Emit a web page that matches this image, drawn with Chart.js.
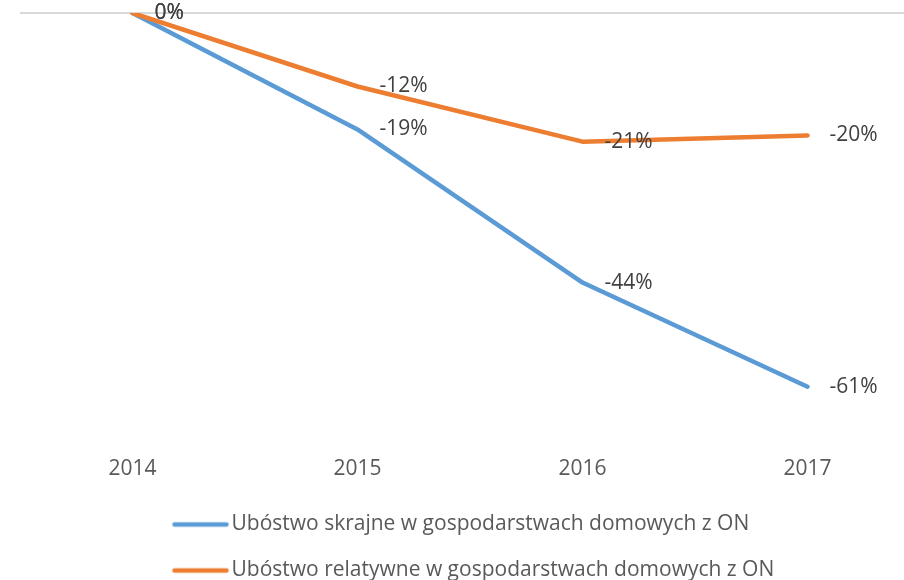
<!DOCTYPE html>
<html>
<head>
<meta charset="utf-8">
<script src="https://cdn.jsdelivr.net/npm/chart.js@4"></script>
<style>
  html, body { margin: 0; padding: 0; background: #fff; overflow: hidden; }
  canvas { display: block; }
</style>
</head>
<body>
<canvas id="myChart" width="940" height="591"></canvas>
<script>
const years = ['2014', '2015', '2016', '2017'];
const extremePoverty = [0, -19, -44, -61];
const relativePoverty = [0, -12, -21, -20];
const seriesNames = [
  'Ubóstwo skrajne w gospodarstwach domowych z ON',
  'Ubóstwo relatywne w gospodarstwach domowych z ON'
];
const seriesColors = ['#5B9BD5', '#ED7D31'];

// short rounded line used as the legend marker
function legendLine(color) {
  const c = document.createElement('canvas');
  c.width = 72;
  c.height = 8;
  const g = c.getContext('2d');
  g.strokeStyle = color;
  g.lineWidth = 4.5;
  g.lineCap = 'round';
  g.beginPath();
  g.moveTo(16, 4);
  g.lineTo(68, 4);
  g.stroke();
  return c;
}

// value labels to the right of each point
const pointLabels = {
  id: 'pointLabels',
  afterDatasetsDraw(chart) {
    const ctx = chart.ctx;
    ctx.save();
    ctx.font = '21px "Open Sans"';
    ctx.fillStyle = '#404040';
    ctx.textAlign = 'left';
    ctx.textBaseline = 'middle';
    chart.data.datasets.forEach(function (dataset, i) {
      chart.getDatasetMeta(i).data.forEach(function (point, j) {
        ctx.fillText(dataset.data[j] + '%', point.x + 22, point.y);
      });
    });
    ctx.restore();
  }
};

// legend rows share one left edge, like the original
const legendShift = {
  id: 'legendShift',
  afterLayout(chart) {
    const legend = chart.legend;
    const shift = 143 - legend.left;
    legend.left += shift;
    legend.right += shift;
  }
};

const ctx = document.getElementById('myChart').getContext('2d');

const chart = new Chart(ctx, {
  type: 'line',
  data: {
    labels: years,
    datasets: [{
      label: seriesNames[0],
      data: extremePoverty,
      borderColor: seriesColors[0],
      backgroundColor: seriesColors[0],
      borderWidth: 4.5,
      borderCapStyle: 'round',
      borderJoinStyle: 'round',
      pointRadius: 0,
      order: 1,
    },
    {
      label: seriesNames[1],
      data: relativePoverty,
      borderColor: seriesColors[1],
      backgroundColor: seriesColors[1],
      borderWidth: 4.5,
      borderCapStyle: 'round',
      borderJoinStyle: 'round',
      pointRadius: 0,
      order: 0,
    }]
  },
  options: {
    responsive: false,
    animation: false,
    layout: {
      padding: { top: 13, left: 20, right: 20, bottom: 0 }
    },
    scales: {
      x: {
        offset: true,
        grid: { display: false, drawTicks: false },
        border: { display: false },
        ticks: {
          padding: 15,
          color: '#595959',
          font: { family: 'Open Sans', size: 21 },
        },
        afterFit: function (axis) { axis.height -= 8; },
      },
      y: {
        min: -70,
        max: 0,
        ticks: { display: false, stepSize: 10 },
        grid: {
          drawTicks: false,
          lineWidth: 2,
          color: function (c) { return c.tick && c.tick.value === 0 ? '#D9D9D9' : 'rgba(0,0,0,0)'; },
        },
        border: { display: false },
        afterFit: function (axis) { axis.width = 0; },
      }
    },
    plugins: {
      tooltip: { enabled: false },
      legend: {
        position: 'bottom',
        align: 'start',
        labels: {
          usePointStyle: true,
          pointStyleWidth: 53,
          boxHeight: 5,
          padding: 25,
          color: '#595959',
          font: { family: 'Open Sans', size: 21 },
          sort: function (a, b) { return a.datasetIndex - b.datasetIndex; },
          generateLabels: function (chart) {
            const items = Chart.defaults.plugins.legend.labels.generateLabels(chart);
            items.forEach(function (item) {
              item.pointStyle = legendLine(seriesColors[item.datasetIndex]);
            });
            return items;
          },
        },
      },
    },
  },
  plugins: [pointLabels, legendShift],
});
</script>
</body>
</html>
